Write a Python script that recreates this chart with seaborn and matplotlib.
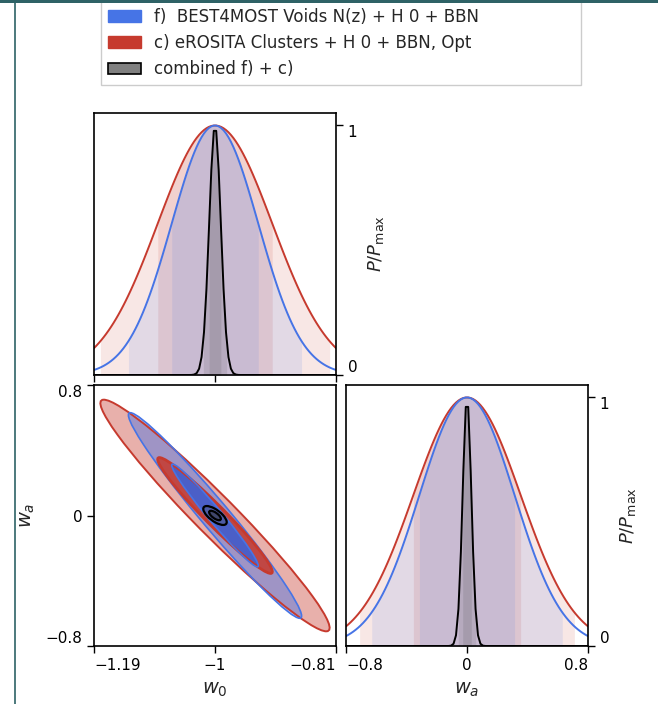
import numpy as np
import matplotlib
matplotlib.use("Agg")
import matplotlib.pyplot as plt
import matplotlib.patches as mpatches
from matplotlib.patches import Ellipse
from matplotlib.lines import Line2D
import seaborn as sns

# ---------------- data ----------------
labels = ["f)  BEST4MOST Voids N(z) + H 0 + BBN",
          "c) eROSITA Clusters + H 0 + BBN, Opt",
          "combined f) + c)"]
colors = ["#4674e6", "#c63a2e", "#000000"]
fill_colors = ["#4674e6", "#c63a2e", "#303030"]
fiducial = [-1.0, 0.0]              # w0, wa
sigma_w0 = [0.068, 0.090, 0.0092]   # blue, red, combined
sigma_wa = [0.315, 0.355, 0.029]
rho = [-0.978, -0.970, -0.70]
w0_ticks = [-1.19, -1.0, -0.81]
w0_ticklabels = ["\u22121.19", "\u22121", "\u22120.81"]
wa_ticks = [-0.8, 0.0, 0.8]
wa_ticklabels = ["\u22120.8", "0", "0.8"]
p_ticks = [0, 1]
p_ticklabels = ["0", "1"]

sns.set_style("ticks")
plt.rcParams["font.family"] = ["DejaVu Sans"]
plt.rcParams["axes.linewidth"] = 1.2
plt.rcParams["axes.edgecolor"] = "black"

fig = plt.figure(figsize=(6.58, 7.04), dpi=100)
W, H = 658.0, 704.0
ax1 = fig.add_axes([94 / W, 1 - 375 / H, 242 / W, 262 / H])
ax2 = fig.add_axes([94 / W, 1 - 646 / H, 242 / W, 261 / H])
ax3 = fig.add_axes([346 / W, 1 - 646 / H, 242 / W, 261 / H])

# ---------------- 1D panels ----------------
def draw_1d(ax, lo, hi, mu, sigmas):
    x = np.linspace(lo, hi, 100)
    xf = np.linspace(lo, hi, 3000)
    order = [1, 0, 2]
    curves = {}
    for i in order:
        y = np.exp(-0.5 * ((x - mu) / sigmas[i]) ** 2)
        curves[i] = (x, y)
        yf = np.interp(xf, x, y)
        for k in (2, 1):
            m = np.abs(xf - mu) <= k * sigmas[i]
            ax.fill_between(xf, 0, yf, where=m, color=fill_colors[i],
                            alpha=0.12, linewidth=0)
    for i in order:
        x, y = curves[i]
        sns.lineplot(x=x, y=y, color=colors[i], lw=1.4, ax=ax, sort=False)
    ax.set_xlim(lo, hi)
    ax.set_ylim(0, 1.05)

draw_1d(ax1, -1.19, -0.81, fiducial[0], sigma_w0)
draw_1d(ax3, -0.8, 0.8, fiducial[1], sigma_wa)

# ---------------- 2D panel ----------------
def ellipse(i, k, **kw):
    sx, sy, r = sigma_w0[i], sigma_wa[i], rho[i]
    cov = np.array([[sx * sx, r * sx * sy], [r * sx * sy, sy * sy]])
    vals, vecs = np.linalg.eigh(cov)
    ang = np.degrees(np.arctan2(vecs[1, 1], vecs[0, 1]))
    return Ellipse((fiducial[0], fiducial[1]), 2 * k * np.sqrt(vals[1]),
                   2 * k * np.sqrt(vals[0]), angle=ang, **kw)

# fills
ax2.add_patch(ellipse(1, 2, facecolor=colors[1], alpha=0.4, lw=0))
ax2.add_patch(ellipse(0, 2, facecolor=colors[0], alpha=0.45, lw=0))
ax2.add_patch(ellipse(1, 1, facecolor=colors[1], alpha=0.85, lw=0))
ax2.add_patch(ellipse(0, 1, facecolor="#3e62d6", alpha=0.9, lw=0))
ax2.add_patch(ellipse(2, 2, facecolor="#555555", alpha=0.3, lw=0))
ax2.add_patch(ellipse(2, 1, facecolor="#333333", alpha=0.5, lw=0))
# outlines
ax2.add_patch(ellipse(1, 2, facecolor="none", edgecolor=colors[1], lw=1.4))
ax2.add_patch(ellipse(0, 2, facecolor="none", edgecolor=colors[0], lw=1.2))
ax2.add_patch(ellipse(1, 1, facecolor="none", edgecolor=colors[1], lw=2.0))
ax2.add_patch(ellipse(0, 1, facecolor="none", edgecolor=colors[0], lw=1.2))
ax2.add_patch(ellipse(2, 2, facecolor="none", edgecolor="black", lw=1.6))
ax2.add_patch(ellipse(2, 1, facecolor="none", edgecolor="black", lw=1.6))
ax2.set_xlim(-1.19, -0.81)
ax2.set_ylim(-0.8, 0.8)

# ---------------- ticks & labels ----------------
for ax in (ax1, ax2, ax3):
    ax.tick_params(direction="out", length=5, width=1.0, labelsize=11,
                   colors="black")
    for s in ax.spines.values():
        s.set_visible(True)
        s.set_linewidth(1.2)

# ax1
ax1.set_xticks(w0_ticks)
ax1.tick_params(axis="x", labelbottom=False)
ax1.yaxis.tick_right()
ax1.set_yticks(p_ticks)
ax1.set_yticklabels(p_ticklabels)
ax1.yaxis.set_label_position("right")
ax1.set_ylabel(r"$P/P_{\rm max}$", fontsize=13)
ax1.yaxis.set_label_coords(1.125, 0.5)
ax1.set_xlabel("")

# ax3
ax3.set_xticks(wa_ticks)
ax3.set_xticklabels(wa_ticklabels)
ax3.yaxis.tick_right()
ax3.set_yticks(p_ticks)
ax3.set_yticklabels(p_ticklabels)
ax3.yaxis.set_label_position("right")
ax3.set_ylabel(r"$P/P_{\rm max}$", fontsize=13)
ax3.yaxis.set_label_coords(1.125, 0.5)
ax3.set_xlabel(r"$w_a$", fontsize=14)
ax3.xaxis.set_label_coords(0.5, -0.13)

# ax2
ax2.set_xticks(w0_ticks)
ax2.set_xticklabels(w0_ticklabels)
ax2.set_yticks(wa_ticks)
ax2.set_yticklabels(wa_ticklabels)
ax2.set_xlabel(r"$w_0$", fontsize=14)
ax2.xaxis.set_label_coords(0.5, -0.13)
ax2.set_ylabel(r"$w_a$", fontsize=14)
ax2.yaxis.set_label_coords(-0.235, 0.5)

def align(ax):
    xt = ax.xaxis.get_major_ticks()
    if len(xt) == 3:
        for t, ha in zip(xt, ["left", "center", "right"]):
            t.label1.set_horizontalalignment(ha)
    yt = ax.yaxis.get_major_ticks()
    n = len(yt)
    for j, t in enumerate(yt):
        va = "bottom" if j == 0 else ("top" if j == n - 1 else "center_baseline")
        t.label1.set_verticalalignment(va)
        t.label2.set_verticalalignment(va)

for ax in (ax1, ax2, ax3):
    align(ax)

# ---------------- legend ----------------
handles = [mpatches.Patch(facecolor=colors[0], edgecolor=colors[0]),
           mpatches.Patch(facecolor=colors[1], edgecolor=colors[1]),
           mpatches.Patch(facecolor="#808080", edgecolor="black", lw=1.2)]
fig.legend(handles, labels, loc="upper left",
           bbox_to_anchor=(101 / W, 0.0, 480 / W, 1 - 1 / H),
           mode="expand", fontsize=12, frameon=True, fancybox=False,
           edgecolor="#cccccc", borderaxespad=0, framealpha=1)

# page decorations seen in the reference screenshot
fig.add_artist(mpatches.Rectangle((0, 1 - 3 / H), 1, 3 / H,
                                  transform=fig.transFigure,
                                  color="#2e6266", lw=0, zorder=10))
fig.add_artist(Line2D([14.5 / W, 14.5 / W], [0, 1], transform=fig.transFigure,
                      color="#2e6266", lw=1.2, zorder=10))

fig.savefig("out.png", dpi=100)
